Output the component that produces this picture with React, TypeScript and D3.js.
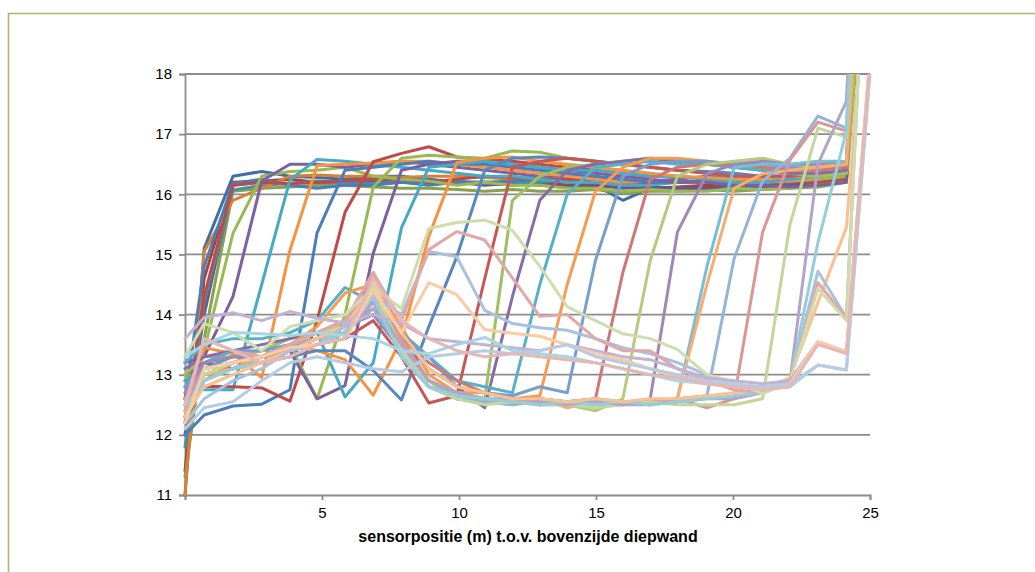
import React, { useEffect, useRef } from "react";
import * as d3 from "d3";

// sensor positions (m) along the wall
const xPositions = [0, 0.7, 1.75, 2.8, 3.83, 4.82, 5.84, 6.87, 7.9, 8.9, 9.92, 10.94, 11.95, 12.95, 13.95, 14.98, 15.98, 16.98, 17.97, 19.05, 20.04, 21.08, 22.08, 23.1, 24.14, 25];
const yTicks = [11, 12, 13, 14, 15, 16, 17, 18];
const xTicks = [5, 10, 15, 20, 25];
const xTitle = "sensorpositie (m) t.o.v. bovenzijde diepwand";

// temperature profiles, one per measurement
const p01 = [11.0, 15.1, 16.3, 16.38, 16.3, 16.28, 16.25, 16.3, 16.3, 16.25, 16.2, 16.2, 16.18, 16.2, 16.15, 16.15, 15.9, 16.1, 16.1, 16.15, 16.12, 16.15, 16.18, 16.2, 16.25, 24];
const p02 = [11.4, 14.6, 16.2, 16.22, 16.25, 16.2, 16.22, 16.2, 16.2, 16.2, 16.18, 16.2, 16.15, 16.2, 16.15, 16.18, 16.15, 16.1, 16.12, 16.15, 16.1, 16.15, 16.15, 16.2, 16.3, 26];
const p03 = [11.3, 13.6, 16.05, 16.1, 16.12, 16.15, 16.15, 16.12, 16.1, 16.1, 16.08, 16.05, 16.08, 16.05, 16.05, 16.08, 16.02, 16.05, 16.05, 16.08, 16.05, 16.08, 16.1, 16.12, 16.2, 23];
const p04 = [12.0, 14.0, 16.15, 16.2, 16.18, 16.2, 16.2, 16.22, 16.2, 16.18, 16.2, 16.15, 16.18, 16.15, 16.12, 16.15, 16.1, 16.12, 16.1, 16.1, 16.12, 16.1, 16.15, 16.15, 16.22, 25];
const p05 = [11.8, 14.2, 16.07, 16.15, 16.18, 16.22, 16.2, 16.18, 16.2, 16.2, 16.22, 16.18, 16.2, 16.2, 16.25, 16.2, 16.15, 16.18, 16.2, 16.2, 16.22, 16.25, 16.28, 16.35, 16.4, 24];
const p06 = [11.0, 15.05, 15.9, 16.1, 16.3, 16.32, 16.3, 16.3, 16.28, 16.3, 16.3, 16.28, 16.25, 16.3, 16.3, 16.28, 16.25, 16.2, 16.2, 16.22, 16.2, 16.25, 16.28, 16.3, 16.35, 22];
const p07 = [12.6, 14.8, 16.18, 16.25, 16.15, 16.1, 16.15, 16.15, 16.2, 16.15, 16.2, 16.2, 16.22, 16.25, 16.2, 16.2, 16.2, 16.22, 16.25, 16.3, 16.28, 16.3, 16.3, 16.35, 16.38, 25];
const p08 = [12.2, 14.3, 16.15, 16.2, 16.18, 16.2, 16.22, 16.25, 16.25, 16.2, 16.25, 16.3, 16.28, 16.25, 16.25, 16.22, 16.2, 16.2, 16.22, 16.2, 16.18, 16.2, 16.22, 16.2, 16.25, 27];
const p09 = [12.9, 13.4, 15.35, 16.3, 16.38, 16.4, 16.45, 16.3, 16.25, 16.22, 16.15, 16.2, 16.15, 16.15, 16.1, 16.1, 16.05, 16.08, 16.05, 16.05, 16.1, 16.08, 16.1, 16.15, 16.2, 21];
const p10 = [13.2, 13.3, 14.3, 16.22, 16.5, 16.5, 16.45, 16.5, 16.55, 16.5, 16.45, 16.4, 16.35, 16.3, 16.3, 16.25, 16.2, 16.2, 16.2, 16.22, 16.2, 16.2, 16.2, 16.25, 16.3, 24];
const p11 = [12.9, 12.75, 12.75, 14.5, 16.24, 16.58, 16.55, 16.5, 16.45, 16.4, 16.35, 16.3, 16.3, 16.25, 16.2, 16.2, 16.15, 16.15, 16.2, 16.2, 16.25, 16.3, 16.3, 16.35, 16.4, 25];
const p12 = [12.3, 13.45, 13.35, 12.95, 15.07, 16.48, 16.5, 16.52, 16.55, 16.55, 16.5, 16.45, 16.4, 16.35, 16.3, 16.25, 16.2, 16.22, 16.2, 16.2, 16.18, 16.2, 16.22, 16.25, 16.3, 22];
const p13 = [12.0, 12.33, 12.48, 12.51, 12.75, 15.36, 16.4, 16.45, 16.5, 16.55, 16.5, 16.5, 16.45, 16.4, 16.35, 16.3, 16.25, 16.2, 16.2, 16.22, 16.2, 16.2, 16.25, 16.3, 16.35, 24];
const p14 = [12.5, 12.81, 12.8, 12.78, 12.56, 13.9, 15.7, 16.54, 16.68, 16.79, 16.62, 16.58, 16.55, 16.5, 16.45, 16.4, 16.35, 16.3, 16.3, 16.25, 16.2, 16.22, 16.25, 16.3, 16.35, 23];
const p15 = [12.7, 13.0, 13.1, 13.3, 13.5, 12.6, 14.0, 16.12, 16.6, 16.65, 16.62, 16.6, 16.72, 16.7, 16.6, 16.55, 16.5, 16.45, 16.4, 16.35, 16.3, 16.3, 16.25, 16.25, 16.3, 22];
const p16 = [13.0, 13.2, 13.1, 13.3, 13.4, 12.6, 12.82, 15.02, 16.4, 16.5, 16.55, 16.55, 16.5, 16.45, 16.4, 16.35, 16.3, 16.25, 16.2, 16.2, 16.15, 16.15, 16.12, 16.15, 16.2, 24];
const p17 = [12.9, 13.1, 13.3, 13.4, 13.5, 13.7, 12.63, 13.2, 15.44, 16.45, 16.5, 16.55, 16.5, 16.45, 16.4, 16.4, 16.35, 16.3, 16.3, 16.25, 16.2, 16.2, 16.25, 16.3, 16.35, 23];
const p18 = [12.3, 12.9, 13.2, 13.3, 13.5, 13.4, 13.25, 12.66, 13.6, 15.3, 16.53, 16.6, 16.62, 16.55, 16.5, 16.45, 16.4, 16.35, 16.3, 16.28, 16.25, 16.25, 16.3, 16.3, 16.35, 25];
const p19 = [12.6, 13.0, 13.1, 13.2, 13.3, 13.4, 13.4, 13.07, 12.58, 13.8, 14.96, 16.4, 16.6, 16.62, 16.6, 16.55, 16.5, 16.45, 16.4, 16.38, 16.35, 16.3, 16.3, 16.35, 16.4, 24];
const p20 = [12.8, 13.2, 13.3, 13.3, 13.4, 13.5, 13.6, 13.9, 13.3, 12.53, 12.65, 14.6, 16.45, 16.55, 16.6, 16.55, 16.5, 16.45, 16.4, 16.35, 16.3, 16.3, 16.3, 16.35, 16.4, 23];
const p21 = [13.0, 13.3, 13.3, 13.4, 13.6, 13.7, 13.9, 14.3, 13.6, 12.9, 12.6, 12.6, 15.9, 16.3, 16.45, 16.5, 16.55, 16.6, 16.55, 16.5, 16.45, 16.4, 16.35, 16.3, 16.35, 23];
const p22 = [13.1, 13.3, 13.4, 13.5, 13.6, 13.7, 13.8, 14.0, 13.5, 13.1, 12.8, 12.45, 14.3, 15.9, 16.4, 16.5, 16.55, 16.6, 16.55, 16.5, 16.45, 16.4, 16.35, 16.35, 16.4, 24];
const p23 = [13.2, 13.5, 13.6, 13.6, 13.7, 13.9, 14.45, 14.2, 13.6, 13.3, 12.9, 12.8, 12.7, 14.5, 16.0, 16.45, 16.5, 16.55, 16.5, 16.5, 16.45, 16.4, 16.4, 16.4, 16.45, 25];
const p24 = [12.4, 13.1, 13.2, 13.3, 13.5, 13.8, 14.36, 14.5, 13.8, 13.0, 12.7, 12.7, 12.6, 12.65, 14.5, 16.05, 16.45, 16.6, 16.6, 16.55, 16.5, 16.45, 16.4, 16.4, 16.45, 22];
const p25 = [12.8, 13.2, 13.4, 13.4, 13.5, 13.7, 13.9, 14.2, 13.7, 13.3, 12.8, 12.7, 12.65, 12.8, 12.7, 14.9, 16.3, 16.5, 16.55, 16.55, 16.5, 16.5, 16.45, 16.45, 16.5, 24];
const p26 = [12.6, 13.1, 13.2, 13.3, 13.4, 13.6, 13.8, 14.1, 13.6, 13.2, 12.9, 12.7, 12.6, 12.6, 12.55, 12.6, 14.7, 16.25, 16.45, 16.5, 16.5, 16.45, 16.4, 16.4, 16.45, 23];
const p27 = [12.5, 13.0, 13.1, 13.2, 13.4, 13.5, 13.7, 14.4, 13.5, 12.9, 12.6, 12.55, 12.5, 12.55, 12.5, 12.4, 12.6, 14.9, 16.3, 16.5, 16.55, 16.6, 16.5, 16.45, 16.5, 22];
const p28 = [12.7, 13.2, 13.3, 13.3, 13.5, 13.6, 13.8, 14.0, 13.4, 12.8, 12.6, 12.55, 12.6, 12.5, 12.55, 12.5, 12.5, 12.6, 15.37, 16.34, 16.5, 16.55, 16.5, 16.5, 16.55, 24];
const p29 = [12.6, 13.0, 13.2, 13.3, 13.5, 13.6, 13.7, 14.3, 13.3, 12.8, 12.7, 12.6, 12.55, 12.5, 12.5, 12.6, 12.55, 12.5, 12.6, 14.8, 16.45, 16.5, 16.5, 16.55, 16.55, 24];
const p30 = [12.5, 13.0, 13.1, 13.3, 13.4, 13.6, 13.9, 14.35, 13.5, 12.9, 12.7, 12.6, 12.55, 12.6, 12.45, 12.55, 12.5, 12.55, 12.6, 14.5, 16.1, 16.34, 16.4, 16.45, 16.5, 23];
const p31 = [12.3, 12.9, 13.1, 13.2, 13.4, 13.5, 13.7, 14.1, 13.4, 12.8, 12.6, 12.55, 12.5, 12.6, 12.55, 12.5, 12.55, 12.5, 12.6, 12.65, 14.93, 16.22, 16.6, 17.3, 17.1, 26];
const p32 = [12.6, 13.1, 13.2, 13.3, 13.4, 13.6, 13.8, 14.7, 13.6, 12.9, 12.7, 12.6, 12.55, 12.5, 12.55, 12.6, 12.5, 12.55, 12.6, 12.45, 12.6, 15.37, 16.57, 17.2, 17.05, 25];
const p33 = [12.4, 13.0, 13.2, 13.3, 13.5, 13.7, 13.8, 14.45, 13.4, 12.8, 12.6, 12.5, 12.55, 12.5, 12.5, 12.45, 12.5, 12.55, 12.5, 12.5, 12.5, 12.6, 15.5, 17.1, 16.95, 24];
const p34 = [12.5, 13.1, 13.2, 13.3, 13.5, 13.6, 13.7, 14.2, 13.5, 12.9, 12.7, 12.6, 12.6, 12.55, 12.5, 12.55, 12.5, 12.5, 12.55, 12.6, 12.6, 12.7, 12.9, 16.5, 17.55, 26];
const p35 = [12.4, 12.9, 13.1, 13.2, 13.4, 13.5, 13.7, 14.3, 13.3, 12.8, 12.65, 12.6, 12.55, 12.5, 12.55, 12.5, 12.55, 12.5, 12.55, 12.6, 12.65, 12.7, 12.9, 15.2, 17.05, 25];
const p36 = [12.3, 12.8, 13.0, 13.2, 13.4, 13.6, 13.8, 14.5, 13.7, 13.1, 12.8, 12.7, 12.6, 12.6, 12.55, 12.6, 12.55, 12.6, 12.6, 12.65, 12.7, 12.75, 12.95, 14.2, 15.45, 20.5];
const p37 = [12.2, 12.6, 12.9, 13.1, 13.4, 13.5, 13.8, 14.3, 14.0, 15.05, 14.96, 14.07, 13.85, 13.78, 13.74, 13.6, 13.45, 13.35, 13.2, 13.0, 12.85, 12.75, 12.9, 14.72, 13.95, 22];
const p38 = [12.4, 13.6, 13.4, 13.3, 13.5, 13.7, 13.9, 14.7, 13.9, 15.08, 15.38, 15.24, 14.61, 13.97, 14.0, 13.6, 13.4, 13.4, 13.1, 12.9, 12.75, 12.7, 12.9, 14.53, 13.95, 22];
const p39 = [13.3, 13.85, 13.7, 13.4, 13.8, 13.9, 14.0, 14.45, 14.1, 15.43, 15.53, 15.57, 15.4, 14.8, 14.13, 13.9, 13.68, 13.6, 13.42, 13.0, 12.88, 12.68, 12.88, 14.43, 13.9, 22];
const p40 = [13.6, 13.95, 14.03, 13.9, 14.05, 13.94, 13.86, 14.0, 13.85, 13.6, 13.55, 13.5, 13.45, 13.4, 13.5, 13.4, 13.3, 13.25, 13.1, 12.95, 12.9, 12.85, 12.9, 13.55, 13.38, 18.3];
const p41 = [13.3, 13.5, 13.7, 13.68, 13.65, 13.7, 13.65, 13.6, 13.4, 13.35, 13.5, 13.62, 13.4, 13.35, 13.3, 13.2, 13.1, 13.0, 12.9, 12.85, 12.8, 12.75, 12.8, 13.16, 13.08, 18.1];
const p42 = [12.2, 13.1, 13.2, 13.3, 13.45, 13.5, 13.6, 14.4, 13.7, 14.53, 14.33, 13.75, 13.69, 13.64, 13.5, 13.35, 13.25, 13.1, 12.95, 12.85, 12.8, 12.75, 12.85, 13.55, 13.38, 18.3];
const p43 = [12.1, 12.45, 12.55, 12.9, 13.2, 13.3, 13.2, 13.1, 13.05, 13.3, 13.35, 13.4, 13.35, 13.4, 13.5, 13.3, 13.2, 13.1, 13.0, 12.9, 12.85, 12.8, 12.85, 13.16, 13.08, 18.0];
const p44 = [12.5, 13.6, 13.4, 13.2, 13.3, 13.5, 13.6, 14.6, 13.9, 13.6, 13.4, 13.3, 13.35, 13.3, 13.25, 13.2, 13.1, 13.0, 12.95, 12.85, 12.8, 12.75, 12.8, 13.5, 13.35, 18.2];

const profiles = [p01, p02, p03, p04, p05, p06, p07, p08, p09, p10, p11, p12, p13, p14, p15, p16, p17, p18, p19, p20, p21, p22, p23, p24, p25, p26, p27, p28, p29, p30, p31, p32, p33, p34, p35, p36, p37, p38, p39, p40, p41, p42, p43, p44];

// Excel-like accent cycle, lighter every round
const accents = ["#4a7ebb", "#be4b48", "#98b954", "#7d60a0", "#46aac5", "#f69240"];
const shades = [-0.12, 0, 0, 0.08, 0.25, 0.42, 0.52, 0.6];

const seriesColor = (i: number) => {
  const base = accents[i % 6];
  const s = shades[Math.min(Math.floor(i / 6), shades.length - 1)];
  return s < 0 ? d3.interpolateRgb(base, "#000")(-s) : d3.interpolateRgb(base, "#fff")(s);
};

const App = () => {
  const svgRef = useRef<SVGSVGElement>(null);

  useEffect(() => {
    drawChart();
  }, []);

  const drawChart = () => {
    const width = 1035;
    const height = 572;
    const plot = { left: 185, right: 870, top: 74, bottom: 495 };

    const svg = d3.select(svgRef.current).attr("width", width).attr("height", height);
    svg.selectAll("*").remove();

    svg.append("rect").attr("width", width).attr("height", height).attr("fill", "#fff");

    // outer frame (only top and left edges are inside the picture)
    svg
      .append("rect")
      .attr("x", 8.5)
      .attr("y", 13.5)
      .attr("width", width + 20)
      .attr("height", height + 20)
      .attr("fill", "none")
      .attr("stroke", "#b2b56f")
      .attr("stroke-width", 1.6);

    const xScale = d3.scaleLinear().domain([0, 25]).range([plot.left, plot.right]);
    const yScale = d3.scaleLinear().domain([11, 18]).range([plot.bottom, plot.top]);

    const font = "'Liberation Sans', Arial, sans-serif";

    // gridlines
    svg
      .append("g")
      .selectAll("line")
      .data(yTicks.slice(1))
      .enter()
      .append("line")
      .attr("x1", plot.left)
      .attr("x2", plot.right)
      .attr("y1", (d) => yScale(d))
      .attr("y2", (d) => yScale(d))
      .attr("stroke", "#8c8c8c")
      .attr("stroke-width", 1.8);

    // axes
    const yAxis = svg
      .append("g")
      .attr("transform", `translate(${plot.left},0)`)
      .call(d3.axisLeft(yScale).tickValues(yTicks).tickSize(6).tickPadding(7).tickFormat(d3.format("d")));
    const xAxis = svg
      .append("g")
      .attr("transform", `translate(0,${plot.bottom})`)
      .call(
        d3
          .axisBottom(xScale)
          .tickValues([0, ...xTicks])
          .tickSize(5)
          .tickPadding(7)
          .tickFormat((d) => (d === 0 ? "" : String(d)))
      );
    [yAxis, xAxis].forEach((g) => {
      g.select(".domain").attr("stroke", "#8c8c8c").attr("stroke-width", 1.8);
      g.selectAll(".tick line").attr("stroke", "#8c8c8c").attr("stroke-width", 1.8);
      g.selectAll(".tick text").attr("fill", "#000").style("font-family", font).style("font-size", "15px");
    });

    // series
    svg
      .append("clipPath")
      .attr("id", "plotClip")
      .append("rect")
      .attr("x", plot.left - 3)
      .attr("y", plot.top)
      .attr("width", plot.right - plot.left + 6)
      .attr("height", plot.bottom - plot.top + 3);

    const line = d3
      .line<number>()
      .x((_, i) => xScale(xPositions[i]))
      .y((d) => yScale(d));

    svg
      .append("g")
      .attr("clip-path", "url(#plotClip)")
      .selectAll("path")
      .data(profiles)
      .enter()
      .append("path")
      .attr("d", (d) => line(d))
      .attr("fill", "none")
      .attr("stroke", (_, i) => seriesColor(i))
      .attr("stroke-width", 3)
      .attr("stroke-linejoin", "round")
      .attr("stroke-linecap", "round");

    // x-axis title
    svg
      .append("text")
      .attr("x", 528)
      .attr("y", 542)
      .attr("text-anchor", "middle")
      .style("font-family", font)
      .style("font-size", "16px")
      .style("font-weight", "bold")
      .text(xTitle);
  };

  return <svg ref={svgRef} style={{ position: "absolute", left: 0, top: 0, display: "block" }}></svg>;
};

export default App;
